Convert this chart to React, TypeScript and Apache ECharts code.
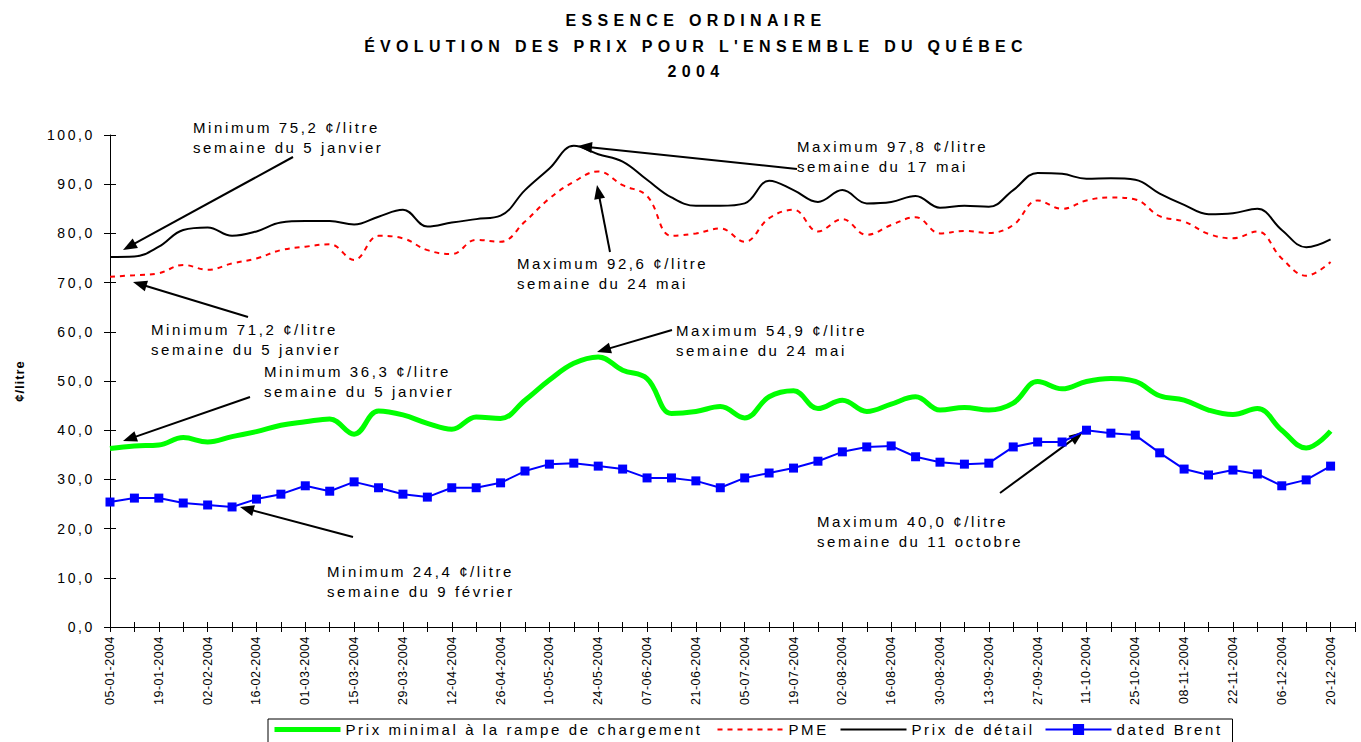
import React, { useEffect, useRef } from "react";
import * as echarts from "echarts";

// ---------- data ----------
const weeks = [
  "05-01-2004", "12-01-2004", "19-01-2004", "26-01-2004", "02-02-2004", "09-02-2004", "16-02-2004", "23-02-2004",
  "01-03-2004", "08-03-2004", "15-03-2004", "22-03-2004", "29-03-2004", "05-04-2004", "12-04-2004", "19-04-2004",
  "26-04-2004", "03-05-2004", "10-05-2004", "17-05-2004", "24-05-2004", "31-05-2004", "07-06-2004", "14-06-2004",
  "21-06-2004", "28-06-2004", "05-07-2004", "12-07-2004", "19-07-2004", "26-07-2004", "02-08-2004", "09-08-2004",
  "16-08-2004", "23-08-2004", "30-08-2004", "06-09-2004", "13-09-2004", "20-09-2004", "27-09-2004", "04-10-2004",
  "11-10-2004", "18-10-2004", "25-10-2004", "01-11-2004", "08-11-2004", "15-11-2004", "22-11-2004", "29-11-2004",
  "06-12-2004", "13-12-2004", "20-12-2004", "27-12-2004",
];

const rampe = [
  36.3, 36.8, 37.0, 38.5, 37.6, 38.7, 39.7, 41.0, 41.7, 42.3,
  39.2, 43.9, 43.1, 41.4, 40.2, 42.7, 42.4, 46.1, 50.2, 53.6,
  54.9, 52.2, 50.5, 43.4, 43.8, 44.8, 42.5, 46.8, 48.0, 44.4,
  46.1, 43.8, 45.3, 46.8, 44.1, 44.6, 44.1, 45.5, 49.9, 48.4,
  49.9, 50.5, 49.9, 47.0, 46.1, 44.1, 43.2, 44.4, 40.0, 36.4, 39.8,
];

const pme = [
  71.2, 71.5, 71.9, 73.6, 72.6, 73.9, 74.9, 76.6, 77.3, 77.8,
  74.6, 79.5, 79.0, 76.6, 75.8, 78.7, 78.3, 82.4, 87.1, 90.5,
  92.6, 89.8, 87.6, 79.5, 80.0, 81.0, 78.3, 83.1, 84.8, 80.4,
  82.9, 79.7, 81.7, 83.3, 80.0, 80.5, 80.1, 81.7, 86.7, 85.0,
  86.7, 87.3, 86.9, 83.5, 82.4, 79.9, 79.0, 80.4, 74.9, 71.4, 74.2,
];

const detail = [
  75.2, 75.3, 77.3, 80.7, 81.2, 79.5, 80.4, 82.2, 82.5, 82.5,
  81.8, 83.4, 84.8, 81.4, 82.2, 82.9, 83.6, 88.8, 93.2, 97.8,
  96.1, 94.6, 90.9, 87.3, 85.6, 85.6, 86.1, 90.7, 88.8, 86.4,
  88.8, 86.1, 86.4, 87.6, 85.2, 85.6, 85.4, 88.8, 92.3, 92.1,
  91.1, 91.2, 90.9, 88.1, 85.8, 83.9, 84.1, 85.0, 80.7, 77.2, 78.8,
];

const brent = [
  25.4, 26.2, 26.2, 25.2, 24.8, 24.4, 26.0, 27.0, 28.7, 27.6,
  29.5, 28.3, 27.0, 26.4, 28.3, 28.3, 29.3, 31.7, 33.1, 33.3,
  32.7, 32.1, 30.3, 30.3, 29.7, 28.3, 30.3, 31.3, 32.3, 33.7,
  35.6, 36.6, 36.8, 34.6, 33.5, 33.1, 33.3, 36.6, 37.6, 37.6,
  40.0, 39.4, 39.0, 35.4, 32.1, 30.9, 31.9, 31.1, 28.7, 29.9, 32.7,
];

const seriesNames = [
  "Prix minimal à la rampe de chargement",
  "PME",
  "Prix de détail",
  "dated Brent",
];

const titleLines = [
  "ESSENCE ORDINAIRE",
  "ÉVOLUTION DES PRIX POUR L'ENSEMBLE DU QUÉBEC",
  "2004",
];

const yAxisName = "¢/litre";

const noteTexts = [
  "Minimum 75,2 ¢/litre\nsemaine du 5 janvier",
  "Maximum 97,8 ¢/litre\nsemaine du 17 mai",
  "Maximum 92,6 ¢/litre\nsemaine du 24 mai",
  "Minimum 71,2 ¢/litre\nsemaine du 5 janvier",
  "Maximum 54,9 ¢/litre\nsemaine du 24 mai",
  "Minimum 36,3 ¢/litre\nsemaine du 5 janvier",
  "Minimum 24,4 ¢/litre\nsemaine du 9 février",
  "Maximum 40,0 ¢/litre\nsemaine du 11 octobre",
];

// ---------- layout (annotation placement, pixels) ----------
const noteLayout = [
  { x: 193, y: 117, from: [293, 157], to: [123, 250] },
  { x: 797, y: 136, from: [797, 169], to: [578, 146] },
  { x: 517, y: 253, from: [610, 252], to: [597, 185] },
  { x: 151, y: 319, from: [248, 317], to: [133, 282] },
  { x: 676, y: 320, from: [672, 330], to: [597, 352] },
  { x: 264, y: 361, from: [250, 397], to: [123, 441] },
  { x: 327, y: 561, from: [353, 537], to: [240, 507] },
  { x: 817, y: 511, from: [1000, 493], to: [1083, 432] },
];
const legendTextWidths = [363, 43, 125, 106];
const legendLineWidths = [5, 2, 2, 2];

const F26 = "sp26, Liberation Sans, Arial, sans-serif";
const F53 = "sp53, Liberation Sans, Arial, sans-serif";
const F10 = "sp10, Liberation Sans, Arial, sans-serif";
const F05 = "sp05, Liberation Sans, Arial, sans-serif";

const css = `
.qc-chart text[style*="sp26"]{letter-spacing:2.6px}
.qc-chart text[style*="sp53"]{letter-spacing:5.3px}
.qc-chart text[style*="sp10"]{letter-spacing:1px}
.qc-chart text[style*="sp05"]{letter-spacing:0.5px}
`;

function arrow(from: number[], to: number[]) {
  const [x1, y1] = from;
  const [x2, y2] = to;
  const dx = x2 - x1;
  const dy = y2 - y1;
  const len = Math.hypot(dx, dy);
  const ux = dx / len;
  const uy = dy / len;
  const hl = 14;
  const hw = 5.5;
  const bx = x2 - ux * hl;
  const by = y2 - uy * hl;
  return [
    {
      type: "line",
      silent: true,
      shape: { x1, y1, x2: bx + ux * 2, y2: by + uy * 2 },
      style: { stroke: "#000", lineWidth: 2 },
    },
    {
      type: "polygon",
      silent: true,
      shape: {
        points: [
          [x2, y2],
          [bx - uy * hw, by + ux * hw],
          [bx + uy * hw, by - ux * hw],
        ],
      },
      style: { fill: "#000" },
    },
  ];
}

function buildOption() {
  const graphics: any[] = [
    {
      type: "text",
      silent: true,
      style: {
        text: titleLines.join("\n"),
        x: 696,
        y: 8,
        textAlign: "center",
        align: "center",
        textVerticalAlign: "top",
        verticalAlign: "top",
        fontSize: 16,
        fontWeight: "bold",
        fontFamily: F53,
        lineHeight: 25.5,
        fill: "#000",
      },
    },
  ];
  noteTexts.forEach((t, i) => {
    const l = noteLayout[i];
    graphics.push({
      type: "text",
      silent: true,
      style: {
        text: t,
        x: l.x,
        y: l.y,
        textAlign: "left",
        align: "left",
        textVerticalAlign: "top",
        verticalAlign: "top",
        fontSize: 15,
        fontFamily: F26,
        lineHeight: 20.5,
        fill: "#000",
      },
    });
    graphics.push(...arrow(l.from, l.to));
  });

  const yFmt = (v: number) => v.toFixed(1).replace(".", ",");
  const hiddenSymbol = { opacity: 0, color: "rgba(0,0,0,0)", borderWidth: 0 };

  return {
    animation: false,
    backgroundColor: "#fff",
    textStyle: { fontFamily: F26, color: "#000" },
    grid: { left: 110, right: 6, top: 135, bottom: 115, containLabel: false },
    legend: {
      left: 268,
      top: 719,
      orient: "horizontal",
      itemWidth: 66,
      itemHeight: 14,
      itemGap: 8,
      padding: [3, 10, 8, 4],
      borderColor: "#000",
      borderWidth: 1,
      selectedMode: false,
      textStyle: {
        fontSize: 15,
        fontFamily: F26,
        color: "#000",
        lineHeight: 14,
        backgroundColor: "rgba(0,0,0,0)",
      },
      data: seriesNames.map((n, i) => ({
        name: n,
        textStyle: { width: legendTextWidths[i] },
        lineStyle: { width: legendLineWidths[i] },
        ...(i < 3 ? { itemStyle: hiddenSymbol } : {}),
      })),
    },
    xAxis: [
      {
        type: "category",
        data: weeks,
        boundaryGap: false,
        axisLine: { show: true, lineStyle: { color: "#000", width: 1 } },
        axisTick: { show: true, interval: 0, length: 5, lineStyle: { color: "#000" } },
        axisLabel: {
          interval: 1,
          rotate: 90,
          fontSize: 12.5,
          fontFamily: F05,
          color: "#000",
          margin: 9,
        },
        splitLine: { show: false },
      },
      {
        type: "category",
        data: weeks,
        position: "bottom",
        boundaryGap: false,
        axisLine: { show: false },
        axisTick: { show: true, inside: true, interval: 0, length: 5, lineStyle: { color: "#000" } },
        axisLabel: { show: false },
        splitLine: { show: false },
      },
    ],
    yAxis: [
      {
        type: "value",
        min: 0,
        max: 100,
        interval: 10,
        position: "left",
        axisLine: { show: true, lineStyle: { color: "#000", width: 1 } },
        axisTick: { show: true, length: 6, lineStyle: { color: "#000" } },
        axisLabel: {
          formatter: yFmt,
          fontSize: 14,
          fontFamily: F26,
          color: "#000",
          margin: 15,
        },
        splitLine: { show: false },
        name: yAxisName,
        nameLocation: "middle",
        nameGap: 84,
        nameTextStyle: { fontSize: 13, fontWeight: "bold", fontFamily: F10, color: "#000" },
      },
      {
        type: "value",
        min: 0,
        max: 100,
        interval: 10,
        position: "left",
        axisLine: { show: false },
        axisTick: { show: true, inside: true, length: 6, lineStyle: { color: "#000" } },
        axisLabel: { show: false },
        splitLine: { show: false },
      },
    ],
    series: [
      {
        type: "line",
        name: seriesNames[0],
        data: rampe,
        smooth: 0.4,
        symbol: "none",
        lineStyle: { color: "#00FF00", width: 5 },
        itemStyle: { color: "#00FF00" },
        z: 2,
      },
      {
        type: "line",
        name: seriesNames[1],
        data: pme,
        smooth: 0.4,
        symbol: "none",
        lineStyle: { color: "#FF0000", width: 2, type: [5, 5] },
        itemStyle: { color: "#FF0000" },
        z: 3,
      },
      {
        type: "line",
        name: seriesNames[2],
        data: detail,
        smooth: 0.4,
        symbol: "none",
        lineStyle: { color: "#000000", width: 2 },
        itemStyle: { color: "#000000" },
        z: 4,
      },
      {
        type: "line",
        name: seriesNames[3],
        data: brent,
        smooth: false,
        symbol: "rect",
        symbolSize: 9,
        showSymbol: true,
        lineStyle: { color: "#0000FF", width: 2 },
        itemStyle: { color: "#0000FF" },
        z: 5,
      },
    ],
    graphic: { elements: graphics },
  };
}

export default function App() {
  const ref = useRef<HTMLDivElement>(null);
  useEffect(() => {
    if (!ref.current) return;
    const chart = echarts.init(ref.current, null, { renderer: "svg" });
    chart.setOption(buildOption() as any);
    return () => {
      chart.dispose();
    };
  }, []);
  return (
    <>
      <style>{css}</style>
      <div
        ref={ref}
        className="qc-chart"
        style={{ position: "absolute", left: 0, top: 0, width: 1361, height: 742, background: "#fff" }}
      />
    </>
  );
}
